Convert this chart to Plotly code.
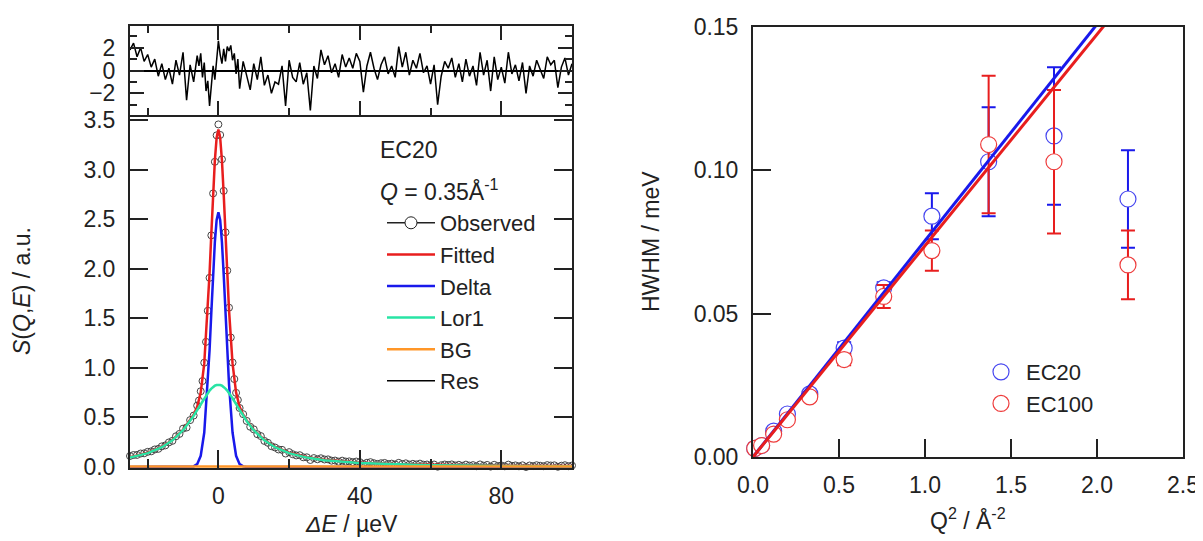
import plotly.graph_objects as go

W, H = 1203, 541
OFF = 8  # margen del body de la pagina
FW, FH = W, H - OFF
FONT = "Arial, Liberation Sans, sans-serif"
INK = "#222"
RED = "rgb(232,30,30)"
BLUE = "rgb(25,25,235)"
GREEN = "rgb(40,228,165)"
ORANGE = "rgb(255,150,40)"
C_EC20 = "rgb(70,70,240)"
C_EC100 = "rgb(238,60,60)"

# ─── panel izquierdo: espectro EC20, Q = 0.35 A^-1 ───
dE_obs = [-25, -24, -23, -22, -21, -20, -19, -18, -17, -16, -15, -14, -13, -12, -11, -10, -9, -8, -7,
          -6, -5.5, -5, -4.5, -4, -3.5, -3, -2.5, -2, -1.5, -1, -0.5, 0, 0.5, 1, 1.5, 2, 2.5, 3, 3.5,
          4, 4.5, 5, 5.5, 6,
          7, 8, 9, 10, 11, 12, 13, 14, 15, 16, 17, 18, 19, 20, 21, 22, 23, 24, 25, 26,
          27, 28, 29, 30, 31, 32, 33, 34, 35, 36, 37, 38, 39, 40, 41, 42, 43, 44, 45, 46,
          47, 48, 49, 50, 51, 52, 53, 54, 55, 56, 57, 58, 59, 60, 61, 62, 63, 64, 65, 66,
          67, 68, 69, 70, 71, 72, 73, 74, 75, 76, 77, 78, 79, 80, 81, 82, 83, 84, 85, 86,
          87, 88, 89, 90, 91, 92, 93, 94, 95, 96, 97, 98, 99, 100]
s_obs = [0.111, 0.121, 0.122, 0.136, 0.138, 0.153, 0.158, 0.177, 0.183, 0.208, 0.218, 0.248, 0.264,
         0.310, 0.334, 0.387, 0.398, 0.473, 0.519,
         0.619, 0.670, 0.764, 0.867, 1.052, 1.262, 1.576, 1.908, 2.336, 2.759, 3.078, 3.345, 3.455,
         3.349, 3.103, 2.785, 2.367, 1.981, 1.607, 1.306, 1.054, 0.887, 0.748, 0.676, 0.595,
         0.533, 0.465, 0.406, 0.380, 0.331, 0.312, 0.263, 0.244, 0.210, 0.197,
         0.177, 0.173, 0.136, 0.150, 0.129, 0.117, 0.119, 0.098, 0.098, 0.071,
         0.090, 0.078, 0.088, 0.076, 0.077, 0.064, 0.065, 0.054, 0.064, 0.055,
         0.057, 0.049, 0.055, 0.049, 0.030, 0.043, 0.049, 0.038, 0.031, 0.038,
         0.041, 0.030, 0.034, 0.026, 0.042, 0.030, 0.037, 0.024, 0.032, 0.026,
         0.034, 0.023, 0.025, 0.015, 0.025, 0.003, 0.018, 0.025, 0.021, 0.026,
         0.015, 0.022, 0.012, 0.024, 0.014, 0.019, 0.008, 0.026, 0.013, 0.021,
         0.004, 0.022, 0.010, 0.016, 0.007, 0.024, 0.012, 0.016, 0.007, 0.017,
         0.000, 0.015, 0.009, 0.018, 0.013, 0.008, 0.019, 0.015, 0.017, 0.002,
         0.013, 0.018, 0.008, 0.015]
res = [1.8, 2.4, 1.2, 2.0, 0.8, 1.4, 0.3, 1.0, -0.5, 0.6, -0.8, 0.2, -1.2, 0.9, -0.4, 1.6, -2.6, 0.5, -1.0,
       1.3, 0.4, 1.5, -0.6, 0.7, -1.8, -0.9, -3.1, -1.2, 0.4, -0.8, 1.2, 2.6, 1.4, 0.6, 1.9, 0.8, 2.1,
       1.7, 2.2, 0.9, 1.5, -0.3, 1.0, -1.6,
       0.8, -0.5, -1.7, 0.6, -0.8, 1.2, -1.3, -0.4, -2.0, -1.0,
       -1.2, 0.4, -3.1, 0.9, -0.6, -1.0, 0.7, -1.2, -0.2, -3.5,
       0.4, -0.7, 1.8, 0.5, 1.3, -0.2, 0.6, -0.6, 1.4, 0.3,
       1.1, 0.2, 1.5, 0.8, -1.9, 0.4, 1.6, 0.2, -0.8, 0.5,
       1.2, -0.3, 0.4, -0.6, 2.1, 0.3, 1.6, -0.4, 0.9, 0.2,
       1.5, -0.2, 0.4, -1.2, 0.5, -3.0, -0.5, 0.8, 0.2, 1.1,
       -0.6, 0.6, -1.0, 1.0, -0.5, 0.4, -1.3, 1.6, -0.4, 0.9,
       -1.8, 1.2, -0.8, 0.3, -1.1, 1.6, -0.3, 0.5, -0.9, 0.7,
       -2.0, 0.4, -0.5, 0.9, 0.1, -0.7, 1.2, 0.5, 0.9, -1.5,
       0.3, 1.1, -0.4, 0.6]

dE_fit = [-25, -20, -16, -13, -10, -8, -7, -6, -5, -4, -3, -2.5, -2, -1.5, -1, -0.5, 0,
          0.5, 1, 1.5, 2, 2.5, 3, 4, 5, 6, 7, 8, 10, 13, 16, 20, 25, 30, 40, 50, 60, 70, 80, 90, 100]
s_fit = [0.099, 0.144, 0.204, 0.273, 0.375, 0.469, 0.527, 0.608, 0.751, 1.045, 1.585, 1.952, 2.354,
         2.752, 3.092, 3.322, 3.404,
         3.322, 3.092, 2.752, 2.354, 1.952, 1.585, 1.045, 0.751, 0.608, 0.527, 0.469,
         0.375, 0.273, 0.204, 0.144, 0.099, 0.073, 0.044, 0.030, 0.022, 0.018, 0.014, 0.012, 0.011]
s_delta = [0, 0, 0, 0, 0, 0.001, 0.006, 0.029, 0.113, 0.348, 0.834, 1.177, 1.559, 1.940, 2.268, 2.491,
           2.57,
           2.491, 2.268, 1.940, 1.559, 1.177, 0.834, 0.348, 0.113, 0.029, 0.006, 0.001,
           0, 0, 0, 0, 0, 0, 0, 0, 0, 0, 0, 0, 0]
s_lor1 = [0.095, 0.140, 0.200, 0.269, 0.371, 0.464, 0.517, 0.575, 0.634, 0.693, 0.747, 0.771, 0.791,
          0.808, 0.820, 0.827, 0.830,
          0.827, 0.820, 0.808, 0.791, 0.771, 0.747, 0.693, 0.634, 0.575, 0.517, 0.464,
          0.371, 0.269, 0.200, 0.140, 0.095, 0.069, 0.040, 0.026, 0.018, 0.014, 0.010, 0.008, 0.007]
dE_bg = [-25, 100]
s_bg = [0.004, 0.004]

# ─── panel derecho: HWHM vs Q^2 ───
q2 = [0.01, 0.05, 0.12, 0.20, 0.33, 0.53, 0.76, 1.04, 1.37, 1.75, 2.18]
hwhm_ec20 = [0.003, 0.004, 0.009, 0.015, 0.022, 0.038, 0.059, 0.084, 0.103, 0.112, 0.090]
err_ec20 = [0.0005, 0.0008, 0.001, 0.001, 0.0015, 0.002, 0.002, 0.008, 0.019, 0.024, 0.017]
hwhm_ec100 = [0.003, 0.004, 0.008, 0.013, 0.021, 0.034, 0.056, 0.072, 0.109, 0.103, 0.067]
err_ec100 = [0.0005, 0.0008, 0.001, 0.001, 0.0015, 0.002, 0.004, 0.007, 0.024, 0.025, 0.012]
fit_q2 = [0.0, 2.1]
fit_ec20 = [0.0, 0.1585]
fit_ec100 = [0.0, 0.1548]


# posiciones en pixeles de la ventana -> fraccion del papel
def fx(px):
    return (px - OFF) / FW


def fy(py):
    return 1 - (py - OFF) / FH


fig = go.Figure()

# espectro
fig.add_trace(go.Scatter(
    x=dE_obs, y=s_obs, mode="markers", showlegend=False, cliponaxis=False,
    marker=dict(symbol="circle-open", size=7, color="#444", line=dict(width=1)),
))
fig.add_trace(go.Scatter(
    x=[None], y=[None], mode="lines+markers", name="Observed",
    line=dict(color=INK, width=1.5),
    marker=dict(symbol="circle", size=12, color="white", line=dict(color=INK, width=1)),
))
fig.add_trace(go.Scatter(x=dE_fit, y=s_fit, mode="lines", name="Fitted",
                         line=dict(color=RED, width=2.5)))
fig.add_trace(go.Scatter(x=dE_fit, y=s_delta, mode="lines", name="Delta",
                         line=dict(color=BLUE, width=2.5)))
fig.add_trace(go.Scatter(x=dE_fit, y=s_lor1, mode="lines", name="Lor1",
                         line=dict(color=GREEN, width=2.5)))
fig.add_trace(go.Scatter(x=dE_bg, y=s_bg, mode="lines", name="BG",
                         line=dict(color=ORANGE, width=2.5)))
fig.add_trace(go.Scatter(x=dE_obs, y=res, mode="lines", name="Res",
                         line=dict(color="black", width=1.5), xaxis="x2", yaxis="y2"))

# HWHM
fig.add_trace(go.Scatter(
    x=q2, y=hwhm_ec20, mode="markers", name="EC20", legend="legend2", cliponaxis=False,
    xaxis="x3", yaxis="y3",
    marker=dict(symbol="circle", size=16, color="white", line=dict(color=C_EC20, width=1.2)),
    error_y=dict(type="data", array=err_ec20, color=BLUE, thickness=2, width=7),
))
fig.add_trace(go.Scatter(
    x=q2, y=hwhm_ec100, mode="markers", name="EC100", legend="legend2", cliponaxis=False,
    xaxis="x3", yaxis="y3",
    marker=dict(symbol="circle", size=16, color="white", line=dict(color=C_EC100, width=1.2)),
    error_y=dict(type="data", array=err_ec100, color=RED, thickness=2, width=7),
))
fig.add_trace(go.Scatter(x=fit_q2, y=fit_ec20, mode="lines", showlegend=False,
                         xaxis="x3", yaxis="y3", line=dict(color=BLUE, width=3)))
fig.add_trace(go.Scatter(x=fit_q2, y=fit_ec100, mode="lines", showlegend=False,
                         xaxis="x3", yaxis="y3", line=dict(color=RED, width=3)))

ax = dict(showgrid=False, zeroline=False, linecolor=INK, linewidth=2, ticks="inside",
          tickcolor=INK, tickwidth=2, automargin=False,
          tickfont=dict(family=FONT, size=23, color=INK))

fig.update_layout(
    width=FW, height=FH, margin=dict(l=0, r=0, t=0, b=0, autoexpand=False),
    paper_bgcolor="white", plot_bgcolor="white",
    font=dict(family=FONT, size=23, color=INK),
    xaxis=dict(ax, domain=[fx(130), fx(572)], anchor="y", range=[-25, 100],
               tick0=0, dtick=40, ticklen=18, mirror=False, ticklabelstandoff=6,
               minor=dict(dtick=20, ticklen=9, ticks="inside", tickcolor=INK, tickwidth=2)),
    yaxis=dict(ax, domain=[fy(468), fy(115)], anchor="x", range=[-0.01, 3.55],
               dtick=0.5, tickformat=".1f", ticklen=18, mirror="ticks", ticklabelstandoff=8),
    xaxis2=dict(ax, domain=[fx(130), fx(572)], anchor="y2", range=[-25, 100],
                tick0=0, dtick=40, ticklen=14, mirror="ticks", showticklabels=False,
                minor=dict(dtick=20, ticklen=7, ticks="inside", tickcolor=INK, tickwidth=2)),
    yaxis2=dict(ax, domain=[fy(115), fy(26)], anchor="x2", range=[-3.9, 3.9],
                tick0=0, dtick=2, ticklen=14, mirror="ticks", ticklabelstandoff=8,
                zeroline=True, zerolinecolor="black", zerolinewidth=1.5,
                minor=dict(dtick=1, ticklen=7, ticks="inside", tickcolor=INK, tickwidth=2)),
    xaxis3=dict(ax, domain=[fx(753), fx(1183)], anchor="y3", range=[0, 2.5],
                dtick=0.5, tickformat=".1f", ticklen=18, mirror=True, ticklabelstandoff=6),
    yaxis3=dict(ax, domain=[fy(457), fy(27)], anchor="x3", range=[0, 0.15],
                dtick=0.05, tickformat=".2f", ticklen=18, mirror=True, ticklabelstandoff=8),
    legend=dict(x=fx(382), y=fy(202), xanchor="left", yanchor="top", itemwidth=48,
                bgcolor="rgba(0,0,0,0)", font=dict(family=FONT, size=22, color=INK)),
    legend2=dict(x=fx(976), y=fy(351), xanchor="left", yanchor="top", itemwidth=40,
                 bgcolor="rgba(0,0,0,0)", font=dict(family=FONT, size=22, color=INK)),
    showlegend=True,
)

notas = [
    dict(text="<i>ΔE</i> / µeV", x=fx(351), y=fy(524), textangle=0),
    dict(text="<i>S</i>(<i>Q</i>,<i>E</i>) / a.u.", x=fx(22), y=fy(291), textangle=-90),
    dict(text="HWHM / meV", x=fx(651), y=fy(242), textangle=-90),
    dict(text="Q<sup>2</sup> / Å<sup>-2</sup>", x=fx(968), y=fy(519), textangle=0),
]
for n in notas:
    fig.add_annotation(xref="paper", yref="paper", showarrow=False,
                       xanchor="center", yanchor="middle",
                       font=dict(family=FONT, size=23, color=INK), **n)

fig.add_annotation(text="EC20", xref="paper", yref="paper", x=fx(378), y=fy(150),
                   xanchor="left", yanchor="middle", showarrow=False,
                   font=dict(family=FONT, size=23, color=INK))
fig.add_annotation(text="<i>Q</i> = 0.35Å<sup>-1</sup>", xref="paper", yref="paper",
                   x=fx(378), y=fy(190), xanchor="left", yanchor="middle", showarrow=False,
                   font=dict(family=FONT, size=23, color=INK))

fig.write_html("out.html")
